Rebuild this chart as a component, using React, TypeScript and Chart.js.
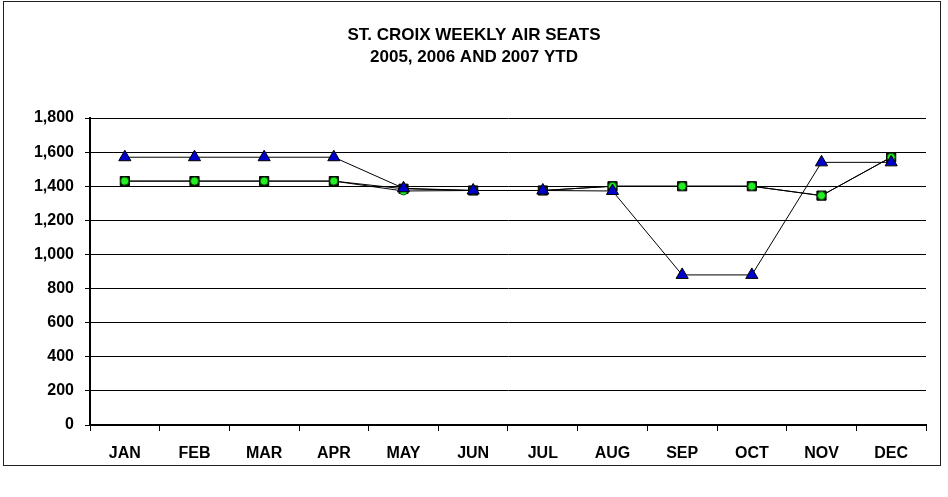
import React, { useEffect, useRef } from "react";
import { Chart, registerables } from "chart.js";

Chart.register(...registerables);

const months = ["JAN", "FEB", "MAR", "APR", "MAY", "JUN", "JUL", "AUG", "SEP", "OCT", "NOV", "DEC"];
const seriesSquares = [1430, 1430, 1430, 1430, 1385, 1375, 1375, 1400, 1400, 1400, 1345, 1570];
const seriesCircles = [1430, 1430, 1430, 1430, 1372, 1375, 1375, 1400, 1400, 1400, 1345, 1570];
const seriesTriangles = [1570, 1570, 1570, 1570, 1388, 1375, 1375, 1372, 880, 880, 1540, 1540];
const titleLines = ["ST. CROIX WEEKLY AIR SEATS", "2005, 2006 AND 2007 YTD"];

const FONT = "'Liberation Sans', Arial, sans-serif";

export default function App() {
  const ref = useRef<HTMLCanvasElement | null>(null);

  useEffect(() => {
    if (!ref.current) return;
    const titlePlugin = {
      id: "customTitle",
      afterDraw(chart: any) {
        const ctx = chart.ctx;
        ctx.save();
        ctx.fillStyle = "#000";
        ctx.font = `bold 17px ${FONT}`;
        ctx.textAlign = "center";
        ctx.textBaseline = "middle";
        titleLines.forEach((t, i) => ctx.fillText(t, chart.width / 2, 35 + i * 22));
        ctx.restore();
      },
    };
    const chart = new Chart(ref.current, {
      type: "line",
      data: {
        labels: months,
        datasets: [
          {
            label: "2007",
            data: seriesTriangles,
            borderColor: "#000",
            borderWidth: 1,
            pointStyle: "triangle",
            pointRadius: 7,
            pointBackgroundColor: "#0000cc",
            pointBorderColor: "#000",
            pointBorderWidth: 1,
            tension: 0,
          },
          {
            label: "2006",
            data: seriesCircles,
            borderColor: "#000",
            borderWidth: 1,
            pointStyle: "circle",
            pointRadius: 4,
            pointBackgroundColor: "#22ee22",
            pointBorderColor: "#0a5a0a",
            pointBorderWidth: 1,
            tension: 0,
          },
          {
            label: "2005",
            data: seriesSquares,
            borderColor: "#000",
            borderWidth: 1,
            pointStyle: "rect",
            pointRadius: 6.5,
            pointBackgroundColor: "#140404",
            pointBorderColor: "#000",
            pointBorderWidth: 1,
            tension: 0,
          },
        ],
      },
      options: {
        animation: false,
        responsive: false,
        maintainAspectRatio: false,
        layout: { padding: { left: 0, top: 118, right: 22, bottom: 32 } },
        plugins: {
          legend: { display: false },
          title: { display: false },
          tooltip: { enabled: false },
        },
        scales: {
          x: {
            offset: true,
            afterFit: (s: any) => {
              s.height = 40;
            },
            grid: {
              offset: true,
              drawOnChartArea: false,
              drawTicks: true,
              tickLength: 6,
              color: "#000",
            },
            border: { display: true, color: "#000", width: 2 },
            ticks: {
              color: "#000",
              padding: 13,
              font: { family: FONT, size: 16, weight: "bold" },
              maxRotation: 0,
              autoSkip: false,
            },
          },
          y: {
            min: 0,
            max: 1800,
            afterFit: (s: any) => {
              s.width = 90;
            },
            grid: {
              color: "#000",
              lineWidth: 1,
              tickLength: 5,
            },
            border: { display: true, color: "#000", width: 2 },
            ticks: {
              stepSize: 200,
              color: "#000",
              padding: 11,
              font: { family: FONT, size: 16, weight: "bold" },
              callback: (v: any) => Number(v).toLocaleString("en-US"),
            },
          },
        },
      },
      plugins: [titlePlugin],
    });
    return () => chart.destroy();
  }, []);

  return (
    <div style={{ position: "absolute", left: 0, top: 0, width: 948, height: 497, background: "#fff" }}>
      <div
        style={{
          position: "absolute",
          left: 3,
          top: 1,
          width: 938,
          height: 465,
          border: "1px solid #222",
          boxSizing: "border-box",
        }}
      />
      <canvas ref={ref} width={948} height={497} style={{ position: "absolute", left: 0, top: 0 }} />
    </div>
  );
}
